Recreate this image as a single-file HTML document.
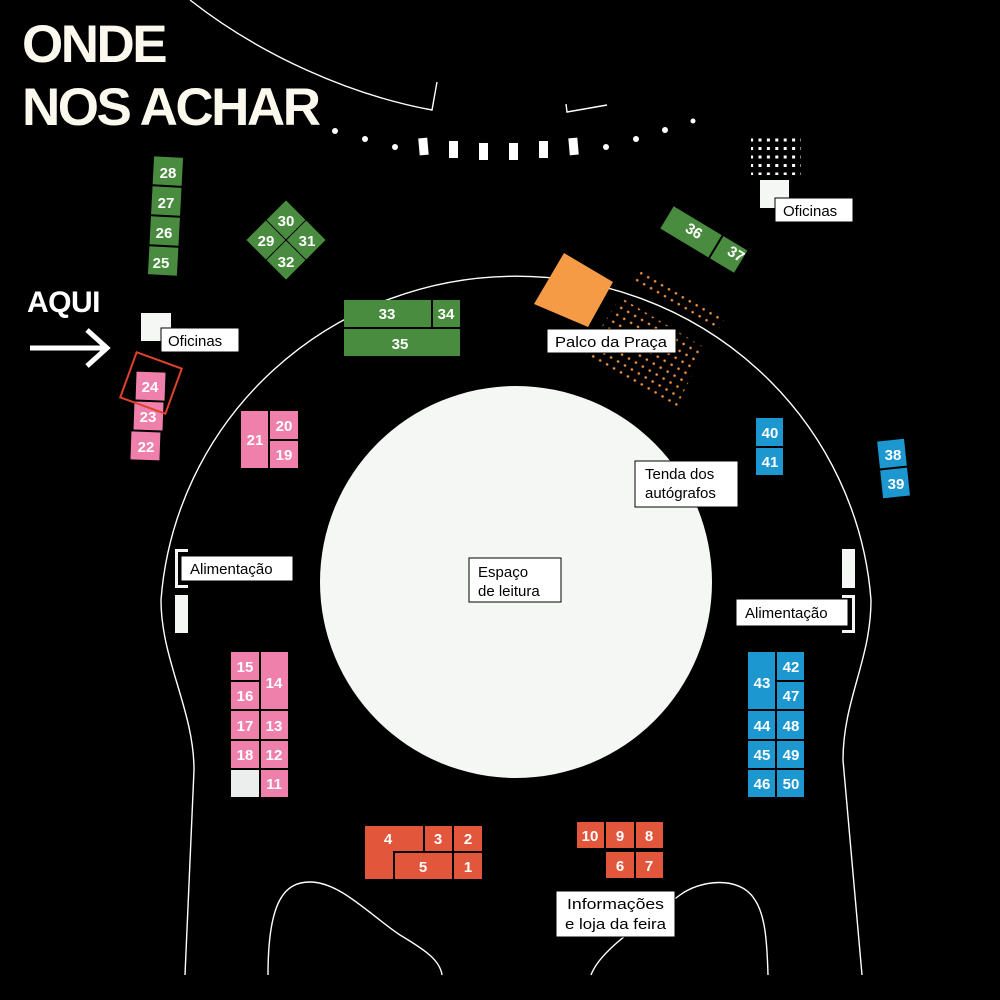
<!DOCTYPE html>
<html><head><meta charset="utf-8"><style>
html,body{margin:0;padding:0;background:#000;}
svg{display:block;}
.n{font-family:"Liberation Sans",sans-serif;font-weight:bold;font-size:15px;fill:#fff;text-anchor:middle;}
.l{font-family:"Liberation Sans",sans-serif;font-size:15px;fill:#000;}
</style></head><body>
<svg width="1000" height="1000" viewBox="0 0 1000 1000" xmlns="http://www.w3.org/2000/svg">
<defs>
<pattern id="od" width="8" height="8" patternUnits="userSpaceOnUse" patternTransform="rotate(30)"><circle cx="4" cy="4" r="1.3" fill="#f0923c"/></pattern>
<pattern id="wd" width="8.4" height="8.5" patternUnits="userSpaceOnUse"><rect x="2.5" y="2.5" width="3" height="3" fill="#fff"/></pattern>
</defs>
<rect width="1000" height="1000" fill="#000"/>
<!-- title -->
<text x="22" y="62" font-family="Liberation Sans" font-weight="bold" font-size="53" fill="#fbf8ee" letter-spacing="-2.5">ONDE</text>
<text x="22" y="125" font-family="Liberation Sans" font-weight="bold" font-size="53" fill="#fbf8ee" letter-spacing="-2.5">NOS ACHAR</text>
<text x="27" y="312" font-family="Liberation Sans" font-weight="bold" font-size="30" fill="#fff" letter-spacing="-0.5">AQUI</text>
<path d="M30,348 H106 M87,330 L107,348 L87,366" stroke="#fff" stroke-width="5" fill="none"/>
<!-- outlines -->
<g stroke="#fff" stroke-width="1.4" fill="none">
<path d="M185,975 L194,770 C194,710 161,660 161,600 A356,350 0 0 1 871,600 C871,660 843,700 843,760 L862,975"/>
<path d="M268,975 C268,900 285,882 310,882 C340,882 370,915 400,935 C425,950 440,960 442,975"/>
<path d="M591,975 C600,950 640,925 680,895 C700,880 740,875 755,900 C765,915 767,940 768,975"/>
<path d="M190,0 C260,55 350,95 432,110 L437,82"/>
<path d="M566,104 L567,112 L607,105"/>
</g>
<!-- dots row -->
<g fill="#fff">
<circle cx="335" cy="131" r="3"/><circle cx="365" cy="139" r="3"/><circle cx="395" cy="147" r="3"/>
<rect x="419" y="138" width="9" height="17" transform="rotate(-5 424 147)"/>
<rect x="449" y="141" width="9" height="17"/><rect x="479" y="143" width="9" height="17"/><rect x="509" y="143" width="9" height="17"/><rect x="539" y="141" width="9" height="17"/>
<rect x="569" y="138" width="9" height="17" transform="rotate(-5 573 146)"/>
<circle cx="606" cy="147" r="3"/><circle cx="636" cy="139" r="3"/><circle cx="665" cy="130" r="3"/><circle cx="693" cy="121" r="2.5"/>
</g>
<!-- big circle -->
<circle cx="516" cy="582" r="196" fill="#f5f7f5"/>
<!-- white grid -->
<rect x="751" y="135" width="50" height="40" fill="url(#wd)"/>
<!-- orange stage and seats -->
<polygon points="564,253 613,282 588,327 534,304" fill="#f59a45"/>
<polygon points="637,268 725,318 717,332 630,282" fill="url(#od)"/>
<polygon points="620,297 705,348 675,410 583,357" fill="url(#od)"/>
<!-- green -->
<g transform="rotate(3 165 216)" fill="#4a8c3f">
<rect x="151" y="157" width="29" height="28"/><rect x="151" y="187" width="29" height="28"/><rect x="151" y="217" width="29" height="28"/><rect x="151" y="247" width="29" height="28"/>
</g>
<text class="n" x="168" y="178">28</text><text class="n" x="166" y="208">27</text><text class="n" x="164" y="238">26</text><text class="n" x="161" y="268">25</text>
<g transform="rotate(45 286 240)" fill="#4a8c3f">
<rect x="258" y="212" width="27.5" height="27.5"/><rect x="286.5" y="212" width="27.5" height="27.5"/><rect x="258" y="240.5" width="27.5" height="27.5"/><rect x="286.5" y="240.5" width="27.5" height="27.5"/>
</g>
<text class="n" x="286" y="226">30</text><text class="n" x="266" y="246">29</text><text class="n" x="307" y="246">31</text><text class="n" x="286" y="267">32</text>
<rect x="344" y="300" width="87" height="27" fill="#4a8c3f"/><rect x="433" y="300" width="27" height="27" fill="#4a8c3f"/><rect x="344" y="329" width="116" height="27" fill="#4a8c3f"/>
<text class="n" x="387" y="319">33</text><text class="n" x="446" y="319">34</text><text class="n" x="400" y="349">35</text>
<g transform="rotate(31 703 239)" fill="#4a8c3f">
<rect x="661" y="226" width="56" height="26"/><rect x="719" y="226" width="28" height="26"/>
</g>
<text class="n" x="694" y="236" transform="rotate(31 694 231)">36</text>
<text class="n" x="736" y="259" transform="rotate(31 736 254)">37</text>
<!-- pink -->
<g transform="rotate(2 148 416)" fill="#ef7fab">
<rect x="135" y="372" width="29" height="28"/><rect x="134" y="402" width="29" height="28"/><rect x="132" y="432" width="29" height="28"/>
</g>
<text class="n" x="150" y="392">24</text><text class="n" x="148" y="422">23</text><text class="n" x="146" y="452">22</text>
<rect x="127" y="359" width="48" height="48" transform="rotate(20 151 383)" fill="none" stroke="#e2412b" stroke-width="2"/>
<rect x="241" y="411" width="27" height="57" fill="#ef7fab"/><rect x="270" y="411" width="28" height="28" fill="#ef7fab"/><rect x="270" y="441" width="28" height="27" fill="#ef7fab"/>
<text class="n" x="255" y="445">21</text><text class="n" x="284" y="431">20</text><text class="n" x="284" y="460">19</text>
<g fill="#ef7fab">
<rect x="231" y="652" width="28" height="28"/><rect x="261" y="652" width="27" height="57"/><rect x="231" y="682" width="28" height="27"/>
<rect x="231" y="711" width="28" height="28"/><rect x="261" y="711" width="27" height="28"/>
<rect x="231" y="741" width="28" height="27"/><rect x="261" y="741" width="27" height="27"/>
<rect x="261" y="770" width="27" height="27"/>
</g>
<rect x="231" y="770" width="28" height="27" fill="#eceeed"/>
<text class="n" x="245" y="672">15</text><text class="n" x="274" y="688">14</text><text class="n" x="245" y="701">16</text>
<text class="n" x="245" y="731">17</text><text class="n" x="274" y="731">13</text>
<text class="n" x="245" y="760">18</text><text class="n" x="274" y="760">12</text><text class="n" x="274" y="789">11</text>
<!-- blue -->
<rect x="756" y="418" width="27" height="28" fill="#1c97cf"/><rect x="756" y="448" width="27" height="27" fill="#1c97cf"/>
<text class="n" x="770" y="438">40</text><text class="n" x="770" y="467">41</text>
<g transform="rotate(-6 894 468)" fill="#1c97cf"><rect x="880" y="440" width="27" height="27"/><rect x="880" y="469" width="27" height="28"/></g>
<text class="n" x="893" y="460">38</text><text class="n" x="896" y="489">39</text>
<g fill="#1c97cf">
<rect x="748" y="652" width="27" height="57"/><rect x="777" y="652" width="27" height="28"/><rect x="777" y="682" width="27" height="27"/>
<rect x="748" y="711" width="27" height="28"/><rect x="777" y="711" width="27" height="28"/>
<rect x="748" y="741" width="27" height="27"/><rect x="777" y="741" width="27" height="27"/>
<rect x="748" y="770" width="27" height="27"/><rect x="777" y="770" width="27" height="27"/>
</g>
<text class="n" x="762" y="688">43</text><text class="n" x="791" y="672">42</text><text class="n" x="791" y="701">47</text>
<text class="n" x="762" y="731">44</text><text class="n" x="791" y="731">48</text>
<text class="n" x="762" y="760">45</text><text class="n" x="791" y="760">49</text>
<text class="n" x="762" y="789">46</text><text class="n" x="791" y="789">50</text>
<!-- red -->
<g fill="#e2563b">
<path d="M365,826 H423 V851 H393 V879 H365 Z"/>
<rect x="425" y="826" width="27" height="25"/><rect x="454" y="826" width="28" height="25"/>
<rect x="395" y="853" width="57" height="26"/><rect x="454" y="853" width="28" height="26"/>
<rect x="577" y="822" width="27" height="26"/><rect x="606" y="822" width="28" height="26"/><rect x="636" y="822" width="27" height="26"/>
<rect x="606" y="852" width="28" height="26"/><rect x="636" y="852" width="27" height="26"/>
</g>
<text class="n" x="388" y="844">4</text><text class="n" x="438" y="844">3</text><text class="n" x="468" y="844">2</text>
<text class="n" x="423" y="872">5</text><text class="n" x="468" y="872">1</text>
<text class="n" x="590" y="841">10</text><text class="n" x="620" y="841">9</text><text class="n" x="649" y="841">8</text>
<text class="n" x="620" y="871">6</text><text class="n" x="649" y="871">7</text>
<!-- white structures -->
<rect x="141" y="313" width="30" height="28" fill="#f5f7f5"/>
<rect x="760" y="180" width="29" height="28" fill="#f5f7f5"/>
<rect x="175" y="549" width="13" height="39" fill="#f5f7f5"/><rect x="178" y="552" width="10" height="33" fill="#000"/>
<rect x="175" y="595" width="13" height="38" fill="#f5f7f5"/>
<rect x="842" y="549" width="13" height="39" fill="#f5f7f5"/>
<rect x="842" y="595" width="13" height="38" fill="#f5f7f5"/><rect x="842" y="598" width="10" height="32" fill="#000"/>
<!-- labels -->
<g fill="#fff" stroke="#000" stroke-width="1">
<rect x="161" y="328" width="78" height="24"/>
<rect x="775" y="198" width="78" height="24"/>
<rect x="547" y="329" width="129" height="24"/>
<rect x="635" y="461" width="103" height="46"/>
<rect x="181" y="556" width="112" height="25"/>
<rect x="736" y="599" width="112" height="27"/>
<rect x="469" y="558" width="92" height="44"/>
<rect x="556" y="891" width="119" height="46"/>
</g>
<text class="l" x="168" y="346">Oficinas</text>
<text class="l" x="783" y="216">Oficinas</text>
<text class="l" x="555" y="347" textLength="112" lengthAdjust="spacingAndGlyphs">Palco da Praça</text>
<text class="l" x="645" y="479">Tenda dos</text>
<text class="l" x="645" y="498">autógrafos</text>
<text class="l" x="190" y="574">Alimentação</text>
<text class="l" x="745" y="618">Alimentação</text>
<text class="l" x="478" y="577">Espaço</text>
<text class="l" x="478" y="596">de leitura</text>
<text class="l" x="567" y="909" textLength="97" lengthAdjust="spacingAndGlyphs">Informações</text>
<text class="l" x="565" y="929" textLength="101" lengthAdjust="spacingAndGlyphs">e loja da feira</text>
</svg>
</body></html>
